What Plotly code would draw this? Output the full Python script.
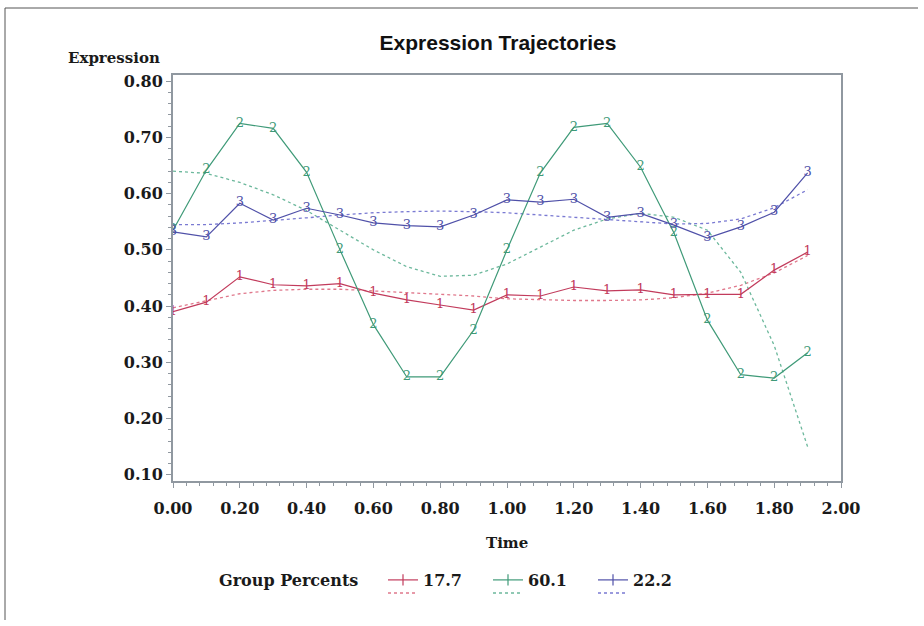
import plotly.graph_objects as go

# ---- data ----
time = [0.0, 0.1, 0.2, 0.3, 0.4, 0.5, 0.6, 0.7, 0.8, 0.9,
        1.0, 1.1, 1.2, 1.3, 1.4, 1.5, 1.6, 1.7, 1.8, 1.9]

g1_obs = [0.390, 0.407, 0.452, 0.438, 0.436, 0.440, 0.423, 0.411, 0.402, 0.393,
          0.420, 0.418, 0.434, 0.427, 0.429, 0.420, 0.421, 0.421, 0.464, 0.496]
g1_fit = [0.397, 0.410, 0.422, 0.428, 0.430, 0.430, 0.427, 0.425, 0.422, 0.418,
          0.413, 0.411, 0.410, 0.410, 0.411, 0.415, 0.423, 0.437, 0.459, 0.490]

g2_obs = [0.535, 0.642, 0.725, 0.716, 0.638, 0.500, 0.367, 0.274, 0.274, 0.357,
          0.500, 0.637, 0.718, 0.725, 0.647, 0.530, 0.375, 0.278, 0.272, 0.317]
g2_fit = [0.640, 0.636, 0.620, 0.598, 0.570, 0.535, 0.500, 0.470, 0.453, 0.455,
          0.475, 0.505, 0.535, 0.555, 0.565, 0.558, 0.535, 0.460, 0.330, 0.150]

g3_obs = [0.532, 0.523, 0.583, 0.553, 0.574, 0.562, 0.548, 0.543, 0.541, 0.562,
          0.589, 0.585, 0.590, 0.558, 0.565, 0.544, 0.521, 0.541, 0.567, 0.637]
g3_fit = [0.545, 0.545, 0.548, 0.552, 0.557, 0.562, 0.566, 0.568, 0.569, 0.568,
          0.566, 0.562, 0.558, 0.553, 0.549, 0.546, 0.547, 0.555, 0.575, 0.607]

group_labels = ["17.7", "60.1", "22.2"]
group_marks = ["1", "2", "3"]
x_ticks = [0.0, 0.2, 0.4, 0.6, 0.8, 1.0, 1.2, 1.4, 1.6, 1.8, 2.0]
x_ticktext = ["0.00", "0.20", "0.40", "0.60", "0.80", "1.00", "1.20", "1.40", "1.60", "1.80", "2.00"]
y_ticks = [0.1, 0.2, 0.3, 0.4, 0.5, 0.6, 0.7, 0.8]
y_ticktext = ["0.10", "0.20", "0.30", "0.40", "0.50", "0.60", "0.70", "0.80"]

obs_colors = ["#c23b5c", "#3f9a78", "#4f50a8"]
fit_colors = ["#e0788c", "#6cb89c", "#7a7ad2"]

SERIF = "DejaVu Serif"

fig = go.Figure()
obs_all = [g1_obs, g2_obs, g3_obs]
fit_all = [g1_fit, g2_fit, g3_fit]

for i in range(3):
    fig.add_trace(go.Scatter(
        x=time, y=fit_all[i], mode="lines",
        line=dict(color=fit_colors[i], width=1.3, dash="3px,3px"),
        showlegend=False, hoverinfo="skip"))
for i in range(3):
    fig.add_trace(go.Scatter(
        x=time, y=obs_all[i], mode="lines+text",
        text=[group_marks[i]] * len(time), textposition="middle center",
        textfont=dict(family=SERIF, size=13, color=obs_colors[i]),
        line=dict(color=obs_colors[i], width=1.2),
        showlegend=False))
# legend proxies
for i in range(3):
    fig.add_trace(go.Scatter(
        x=[None], y=[None], mode="lines+markers", name=group_labels[i],
        line=dict(color=obs_colors[i], width=1.2),
        marker=dict(symbol="line-ns-open", size=8, color=obs_colors[i],
                    line=dict(color=obs_colors[i], width=1.2))))

L, R, T, B = 173, 83, 75, 145
W, H = 924, 626
pw, ph = W - L - R, H - T - B

def px(xp):
    return (xp - L) / pw

def py(yp):
    return (H - B - yp) / ph

axis_common = dict(
    showgrid=False, zeroline=False, showline=True, mirror=True,
    linecolor="#9098a0", linewidth=2,
    ticks="outside", ticklen=5, tickwidth=1, tickcolor="#9098a0",
    tickfont=dict(family=SERIF, size=16, color="#1a1a1a", weight="bold"),
)

legend_samples = [(388, 418), (493, 523), (598, 627)]
shapes = [
    dict(type="line", xref="paper", yref="paper", x0=px(5), x1=px(918), y0=py(8), y1=py(8),
         line=dict(color="#555", width=1)),
    dict(type="line", xref="paper", yref="paper", x0=px(5), x1=px(5), y0=py(8), y1=py(620),
         line=dict(color="#555", width=1)),
]
for i, (a, b) in enumerate(legend_samples):
    shapes.append(dict(type="line", xref="paper", yref="paper", x0=px(a), x1=px(b),
                       y0=py(593), y1=py(593),
                       line=dict(color=fit_colors[i], width=1.3, dash="3px,3px")))

fig.update_layout(
    width=W, height=H,
    margin=dict(l=L, r=R, t=T, b=B),
    paper_bgcolor="white", plot_bgcolor="white",
    title=dict(text="Expression Trajectories", x=498 / W, xref="container",
               xanchor="center", y=1 - 43 / H, yref="container", yanchor="middle",
               font=dict(family="Liberation Sans", size=21, color="#111", weight="bold")),
    xaxis=dict(range=[0, 2.0], tickvals=x_ticks, ticktext=x_ticktext,
               ticklabelstandoff=7,
               minor=dict(dtick=0.04, ticks="outside", ticklen=3, tickcolor="#9098a0"),
               **axis_common),
    yaxis=dict(range=[0.089, 0.811], tickvals=y_ticks, ticktext=y_ticktext,
               minor=dict(dtick=0.02, ticks="outside", ticklen=3, tickcolor="#9098a0"),
               **axis_common),
    showlegend=True,
    legend=dict(orientation="h", x=px(383), xanchor="left", y=py(580), yanchor="middle",
                font=dict(family=SERIF, size=16, color="#1a1a1a", weight="bold"),
                itemwidth=30, entrywidth=60, entrywidthmode="pixels",
                bgcolor="rgba(0,0,0,0)"),
    annotations=[
        dict(text="Expression", x=px(66), y=py(58), xref="paper", yref="paper",
             xanchor="left", yanchor="middle", showarrow=False,
             font=dict(family=SERIF, size=15, color="#1a1a1a", weight="bold")),
        dict(text="Time", x=px(507), y=py(543), xref="paper", yref="paper",
             xanchor="center", yanchor="middle", showarrow=False,
             font=dict(family=SERIF, size=15, color="#1a1a1a", weight="bold")),
        dict(text="Group Percents", x=px(217), y=py(580), xref="paper", yref="paper",
             xanchor="left", yanchor="middle", showarrow=False,
             font=dict(family=SERIF, size=16, color="#1a1a1a", weight="bold")),
    ],
    shapes=shapes,
)

fig.write_html("out.html", config={"displayModeBar": False},
               post_script="document.body.style.margin='0px';")
